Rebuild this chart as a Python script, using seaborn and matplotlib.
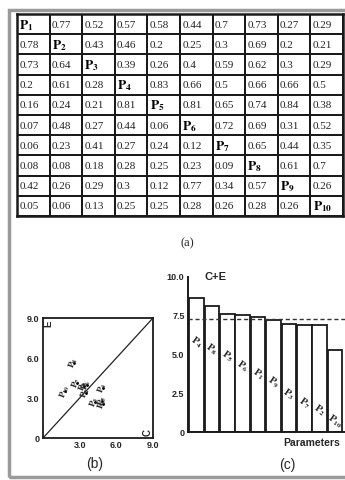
import numpy as np
import pandas as pd
import seaborn as sns
import matplotlib.pyplot as plt
from matplotlib.colors import ListedColormap
from matplotlib.patches import Rectangle

# (a) influence matrix, diagonal holds the parameter names
matrix_rows = [
    [None, 0.77, 0.52, 0.57, 0.58, 0.44, 0.7, 0.73, 0.27, 0.29],
    [0.78, None, 0.43, 0.46, 0.2, 0.25, 0.3, 0.69, 0.2, 0.21],
    [0.73, 0.64, None, 0.39, 0.26, 0.4, 0.59, 0.62, 0.3, 0.29],
    [0.2, 0.61, 0.28, None, 0.83, 0.66, 0.5, 0.66, 0.66, 0.5],
    [0.16, 0.24, 0.21, 0.81, None, 0.81, 0.65, 0.74, 0.84, 0.38],
    [0.07, 0.48, 0.27, 0.44, 0.06, None, 0.72, 0.69, 0.31, 0.52],
    [0.06, 0.23, 0.41, 0.27, 0.24, 0.12, None, 0.65, 0.44, 0.35],
    [0.08, 0.08, 0.18, 0.28, 0.25, 0.23, 0.09, None, 0.61, 0.7],
    [0.42, 0.26, 0.29, 0.3, 0.12, 0.77, 0.34, 0.57, None, 0.26],
    [0.05, 0.06, 0.13, 0.25, 0.25, 0.28, 0.26, 0.28, 0.26, None],
]
param_ids = [1, 2, 3, 4, 5, 6, 7, 8, 9, 10]

# (b) cause (C) and effect (E) per parameter
cause = [4.87, 3.52, 4.22, 4.90, 4.84, 3.56, 2.77, 2.50, 3.33, 1.82]
effect = [2.55, 3.37, 2.72, 3.77, 2.79, 3.96, 4.15, 5.63, 3.89, 3.50]

# (c) C+E sorted
bar_ids = [4, 8, 5, 6, 1, 9, 3, 7, 2, 10]
bar_values = [8.67, 8.13, 7.63, 7.52, 7.42, 7.22, 6.94, 6.92, 6.89, 5.32]
label_heights = [5.8, 5.35, 4.9, 4.25, 3.7, 3.2, 2.45, 1.85, 1.4, 0.7]
mean_value = 7.27

sns.set_theme(style="white")
plt.rcParams['font.family'] = ['Liberation Sans', 'DejaVu Sans']
plt.rcParams['mathtext.fontset'] = 'stix'

W, H = 345, 480
fig = plt.figure(figsize=(W / 100, H / 100), dpi=100)
fig.patch.set_facecolor('white')


def px_axes(x0, y0, x1, y1):
    return fig.add_axes([x0 / W, 1 - y1 / H, (x1 - x0) / W, (y1 - y0) / H])


# grey scan frame
fig.patches.append(Rectangle((9 / W, 3 / H), 1.0, 1 - 13 / H, transform=fig.transFigure,
                             fill=False, edgecolor='#9a9a9a', linewidth=2.5, zorder=10))

# ---- (a) table ----
ax_a = px_axes(17, 14, 343, 216)
sns.heatmap(np.zeros((10, 10)), cmap=ListedColormap(['white']), cbar=False,
            linewidths=1.3, linecolor='#1a1a1a', xticklabels=False, yticklabels=False, ax=ax_a)
for s in ax_a.spines.values():
    s.set_visible(True)
    s.set_linewidth(1.8)
    s.set_color('#1a1a1a')
for i, row in enumerate(matrix_rows):
    for j, v in enumerate(row):
        if v is None:
            txt = r'$\mathbf{P}_{\mathbf{%d}}$' % param_ids[i]
            ax_a.text(j + 0.07, i + 0.55, txt, ha='left', va='center', fontsize=9.5, color='black')
        else:
            ax_a.text(j + 0.07, i + 0.55, f'{v:g}', ha='left', va='center', fontsize=8,
                      family='Liberation Serif', color='#222222')
fig.text(187 / W, 1 - 243 / H, '(a)', ha='center', va='center', fontsize=9, family='Liberation Serif')

# ---- (b) cause / effect scatter ----
ax_b = px_axes(43, 318, 153, 438)
df_b = pd.DataFrame({'C': cause, 'E': effect, 'P': param_ids})
ax_b.plot([0, 9], [0, 9], color='#222222', linewidth=0.9)
sns.scatterplot(data=df_b, x='C', y='E', color='black', s=5, ax=ax_b, legend=False)
for _, r in df_b.iterrows():
    ax_b.text(r['C'], r['E'], r'$\mathbf{P}_{\mathbf{%d}}$' % r['P'], fontsize=6.5, rotation=70,
              ha='center', va='center')
ax_b.set_xlim(0, 9)
ax_b.set_ylim(0, 9)
ax_b.set_xticks([3, 6, 9])
ax_b.set_xticklabels(['3.0', '6.0', '9.0'])
ax_b.set_yticks([0, 3, 6, 9])
ax_b.set_yticklabels(['0', '3.0', '6.0', '9.0'])
ax_b.tick_params(labelsize=6.5, length=1.5, pad=1)
for t in ax_b.get_xticklabels() + ax_b.get_yticklabels():
    t.set_fontweight('bold')
ax_b.set_xlabel('')
ax_b.set_ylabel('')
for s in ax_b.spines.values():
    s.set_linewidth(1.3)
    s.set_color('#1a1a1a')
ax_b.text(0.4, 8.6, 'E', fontsize=7, rotation=90, ha='center', va='center', fontweight='bold')
ax_b.text(8.6, 0.45, 'C', fontsize=7, rotation=90, ha='center', va='center', fontweight='bold')
fig.text(95 / W, 1 - 464 / H, '(b)', ha='center', va='center', fontsize=10)

# ---- (c) C+E bars ----
ax_c = px_axes(188, 277, 352, 432)
df_c = pd.DataFrame({'P': [f'P{i}' for i in bar_ids], 'CE': bar_values})
sns.barplot(data=df_c, x='P', y='CE', color='white', edgecolor='#1a1a1a', linewidth=1.3,
            width=0.95, ax=ax_c)
ax_c.axhline(mean_value, color='#333333', linestyle=(0, (3, 2)), linewidth=1.0)
for k, (pid, yl) in enumerate(zip(bar_ids, label_heights)):
    ax_c.text(k, yl, r'$\mathbf{P}_{\mathbf{%d}}$' % pid, fontsize=7.5, rotation=-35,
              ha='center', va='center')
ax_c.set_xlim(-0.55, 10.1)
ax_c.set_ylim(0, 10)
ax_c.set_yticks([0, 2.5, 5.0, 7.5, 10.0])
ax_c.set_yticklabels(['0', '2.5', '5.0', '7.5', '10.0'])
ax_c.set_xticks([])
ax_c.tick_params(axis='y', labelsize=6.5, length=1.5, pad=1)
for t in ax_c.get_yticklabels():
    t.set_fontweight('bold')
ax_c.set_xlabel('')
ax_c.set_ylabel('')
sns.despine(ax=ax_c)
for s in ['left', 'bottom']:
    ax_c.spines[s].set_linewidth(1.4)
    ax_c.spines[s].set_color('#1a1a1a')
ax_c.text(0.5, 10.0, 'C+E', fontsize=8, ha='left', va='center', fontweight='bold')
fig.text(312 / W, 1 - 443 / H, 'Parameters', ha='center', va='center', fontsize=7.5, fontweight='bold')
fig.text(287 / W, 1 - 465 / H, '(c)', ha='center', va='center', fontsize=10)

fig.savefig('out.png', dpi=100)
